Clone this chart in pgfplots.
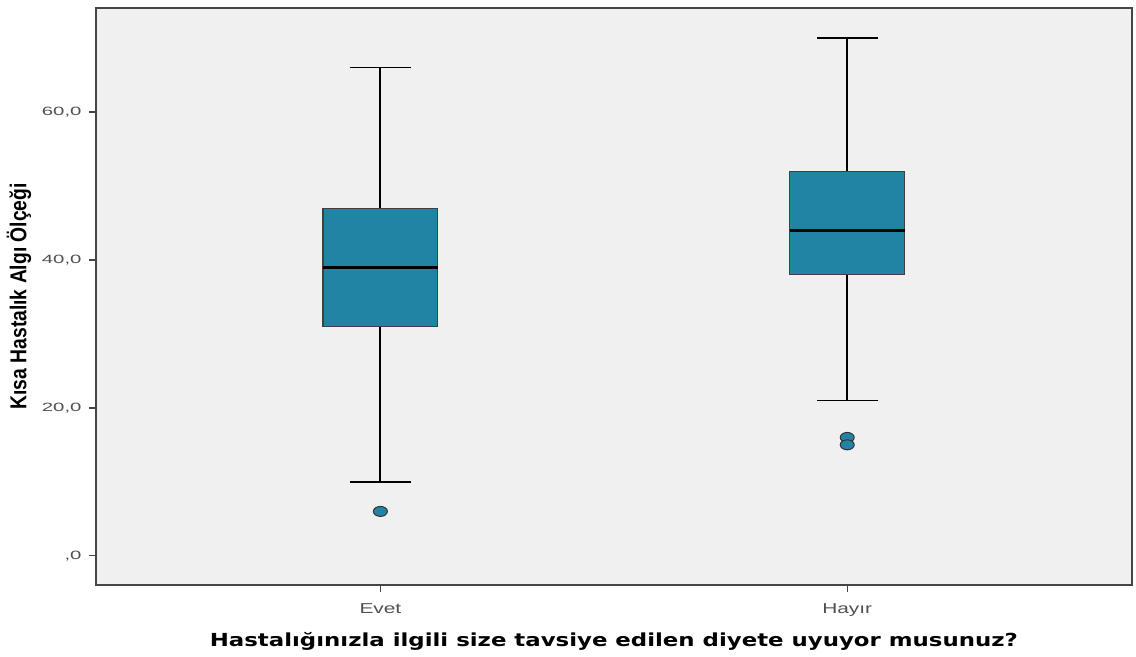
\documentclass[border=0pt]{standalone}
\usepackage{pgfplots}
\pgfplotsset{compat=1.18}
\usepackage{fontspec}
\setmainfont{Liberation Sans}
\newfontfamily\ylabfont[FakeStretch=0.84]{Liberation Sans}
\newfontfamily\xlabfont[FakeStretch=1.27]{DejaVu Sans}
\newfontfamily\ytickfont[FakeStretch=1.7]{Liberation Sans}
\newfontfamily\xtickfont[FakeStretch=1.45]{Liberation Sans}
\definecolor{boxfill}{HTML}{2284A5}
\definecolor{bg}{HTML}{F0F0F0}
\definecolor{axcol}{HTML}{454545}
\definecolor{ticklab}{HTML}{505050}
\begin{document}
\begin{tikzpicture}
\begin{axis}[
  scale only axis,
  width=518.5pt, height=288.5pt,
  xmin=0.39, xmax=2.61,
  ymin=-3.9, ymax=74.05,
  axis background/.style={fill=bg},
  axis line style={axcol, line width=0.9pt},
  xtick={1,2}, xticklabels={Evet,Hay\i r},
  ytick={0,20,40,60}, yticklabels={{,0},{20,0},{40,0},{60,0}},
  tick align=outside, tick style={axcol, line width=0.7pt},
  major tick length=3.5pt,
  xtick pos=bottom, ytick pos=left,
  yticklabel style={font=\ytickfont\fontsize{6}{7}\selectfont, text=ticklab},
  xticklabel style={font=\xtickfont\fontsize{7.2}{8}\selectfont, text=ticklab, yshift=-2.5pt},
  /pgf/number format/assume math mode=true,
  xlabel={\xlabfont\bfseries\fontsize{9}{10}\selectfont Hastalığınızla ilgili size tavsiye edilen diyete uyuyor musunuz?},
  ylabel={\ylabfont\bfseries\fontsize{11.5}{12}\selectfont Kısa Hastalık Algı Ölçeği},
  xlabel style={yshift=-1pt},
  ylabel style={yshift=-1.5pt},
  whisk/.style={draw=black, line width=0.9pt, no marks},
  boxst/.style={draw=black!75, line width=0.6pt, fill=boxfill, no marks},
  med/.style={draw=black, line width=1.5pt, no marks},
  outl/.style={only marks, mark=*, mark size=2.5pt, mark options={fill=boxfill, draw=black!80, line width=0.5pt, xscale=1.4}},
]
% Evet
\addplot[whisk] coordinates {(1,10) (1,31)};
\addplot[whisk] coordinates {(1,47) (1,66)};
\addplot[whisk] coordinates {(0.935,10) (1.065,10)};
\addplot[whisk] coordinates {(0.935,66) (1.065,66)};
\addplot[boxst] coordinates {(0.877,31) (1.123,31) (1.123,47) (0.877,47)} -- cycle;
\addplot[med] coordinates {(0.877,39) (1.123,39)};
\addplot[outl] coordinates {(1,6)};
% Hayir
\addplot[whisk] coordinates {(2,21) (2,38)};
\addplot[whisk] coordinates {(2,52) (2,70)};
\addplot[whisk] coordinates {(1.935,21) (2.065,21)};
\addplot[whisk] coordinates {(1.935,70) (2.065,70)};
\addplot[boxst] coordinates {(1.877,38) (2.123,38) (2.123,52) (1.877,52)} -- cycle;
\addplot[med] coordinates {(1.877,44) (2.123,44)};
\addplot[outl] coordinates {(2,16) (2,15)};
\end{axis}
\path ([xshift=-47.5pt,yshift=-35.5pt]current axis.south west) rectangle ([xshift=2pt,yshift=4pt]current axis.north east);
\end{tikzpicture}
\end{document}
